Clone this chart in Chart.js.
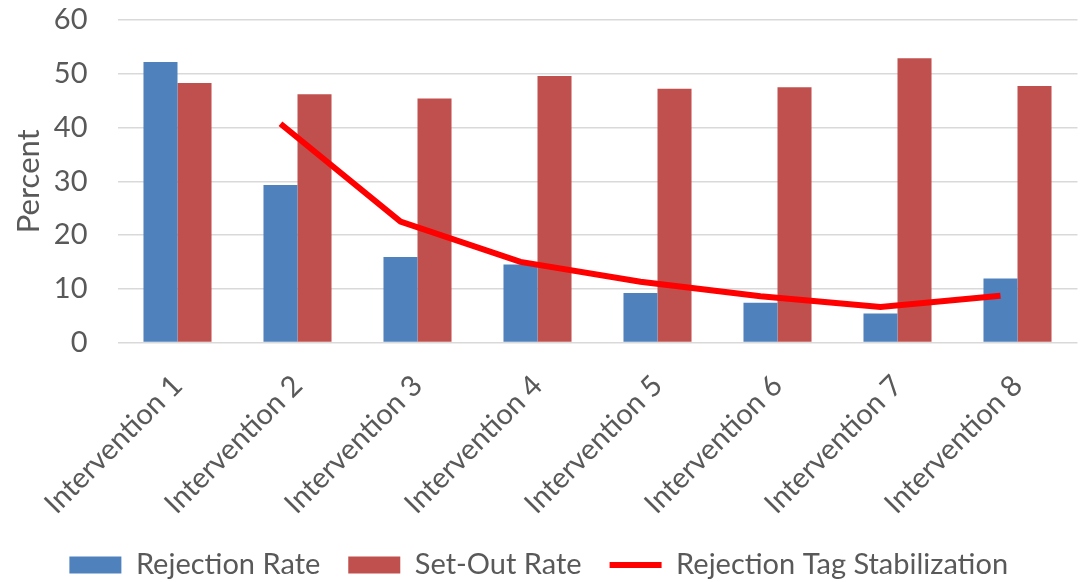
<!DOCTYPE html>
<html>
<head>
<meta charset="utf-8">
<script src="https://cdn.jsdelivr.net/npm/chart.js@4.4.1/dist/chart.umd.min.js"></script>
<style>
  html, body { margin: 0; padding: 0; background: #ffffff; }
  #wrap { width: 1084px; height: 582px; position: relative; }
</style>
</head>
<body>
<div id="wrap"><canvas id="chart"></canvas></div>
<script>
// Intervention categories and the three measured series (percent)
const categories = ['Intervention 1', 'Intervention 2', 'Intervention 3', 'Intervention 4',
                    'Intervention 5', 'Intervention 6', 'Intervention 7', 'Intervention 8'];
const rejectionRate = [52.2, 29.3, 15.9, 14.5, 9.2, 7.4, 5.4, 11.9];
const setOutRate = [48.3, 46.2, 45.4, 49.6, 47.2, 47.5, 52.9, 47.7];
const tagStabilization = [null, 40.7, 22.5, 15.0, 11.3, 8.6, 6.6, 8.7];
const yTicks = [0, 10, 20, 30, 40, 50, 60];

const seriesNames = ['Rejection Rate', 'Set-Out Rate', 'Rejection Tag Stabilization'];
const BLUE = '#4F81BD';
const RED = '#C0504D';
const LINE_RED = '#FF0000';
const TEXT = '#595959';
const FONT = 'Lato';

// Each pair of bars fills this fraction of its category. The two series sit
// side by side, each a quarter of the group away from the category centre;
// the line runs through the centre of the left-hand bar.
const GROUP_FRACTION = 0.567;
const HALF_BAR = GROUP_FRACTION / 4;
const N = categories.length;

const points = (values) => categories.map((c, i) => ({ x: i + 1, y: values[i] }));

// Hidden index axes, one per bar position, sharing the plot width with the category axis
const slotAxis = (shift) => ({
  type: 'linear',
  display: false,
  offset: false,
  min: 0.5 + shift,
  max: N + 0.5 + shift,
  afterBuildTicks: (scale) => { scale.ticks = categories.map((c, i) => ({ value: i + 1 })); }
});

new Chart(document.getElementById('chart'), {
  type: 'bar',
  data: {
    labels: categories,
    datasets: [
      {
        type: 'bar',
        label: seriesNames[0],
        xAxisID: 'xLeft',
        data: points(rejectionRate),
        backgroundColor: BLUE,
        borderWidth: 0,
        grouped: false,
        categoryPercentage: GROUP_FRACTION,
        barPercentage: 0.5,
        order: 1
      },
      {
        type: 'bar',
        label: seriesNames[1],
        xAxisID: 'xRight',
        data: points(setOutRate),
        backgroundColor: RED,
        borderWidth: 0,
        grouped: false,
        categoryPercentage: GROUP_FRACTION,
        barPercentage: 0.5,
        order: 1
      },
      {
        type: 'line',
        label: seriesNames[2],
        xAxisID: 'xLeft',
        data: points(tagStabilization),
        borderColor: LINE_RED,
        backgroundColor: LINE_RED,
        borderWidth: 6,
        pointRadius: 0,
        pointHoverRadius: 0,
        tension: 0,
        fill: false,
        order: 0
      }
    ]
  },
  options: {
    responsive: true,
    maintainAspectRatio: false,
    animation: false,
    layout: { padding: { top: 20, right: 6.5, left: 0, bottom: 0 } },
    scales: {
      x: {
        type: 'category',
        offset: true,
        grid: { display: false, drawTicks: false },
        border: { display: false },
        ticks: {
          color: TEXT,
          font: { family: FONT, size: 29 },
          minRotation: 45,
          maxRotation: 45,
          autoSkip: false,
          padding: 26
        },
        afterFit: (scale) => { scale.height = 180; }
      },
      xLeft: slotAxis(HALF_BAR),
      xRight: slotAxis(-HALF_BAR),
      y: {
        min: yTicks[0],
        max: yTicks[yTicks.length - 1],
        afterBuildTicks: (scale) => { scale.ticks = yTicks.map(v => ({ value: v })); },
        grid: {
          color: '#D9D9D9',
          lineWidth: 1.5,
          drawTicks: true,
          tickLength: 28,
          tickColor: 'rgba(0,0,0,0)'
        },
        border: { display: false },
        ticks: {
          color: TEXT,
          font: { family: FONT, size: 29 },
          padding: 2
        },
        title: {
          display: true,
          text: 'Percent',
          color: TEXT,
          font: { family: FONT, size: 31 },
          padding: { top: 10, bottom: 0 }
        },
        afterFit: (scale) => { scale.width = 117.5; }
      }
    },
    plugins: {
      tooltip: { enabled: false },
      legend: {
        position: 'bottom',
        maxHeight: 59.5,
        labels: {
          color: TEXT,
          font: { family: FONT, size: 29 },
          usePointStyle: true,
          pointStyleWidth: 52,
          boxHeight: 17,
          padding: 28,
          sort: (a, b) => a.datasetIndex - b.datasetIndex,
          generateLabels: (chart) => {
            const items = Chart.defaults.plugins.legend.labels.generateLabels(chart);
            items.forEach(item => {
              const ds = chart.data.datasets[item.datasetIndex];
              if (ds.type === 'line') {
                item.pointStyle = 'line';
                item.strokeStyle = LINE_RED;
                item.lineWidth = 6;
              } else {
                item.pointStyle = 'rect';
                item.fillStyle = ds.backgroundColor;
                item.strokeStyle = ds.backgroundColor;
                item.lineWidth = 0;
              }
            });
            return items;
          }
        }
      }
    }
  }
});
</script>
</body>
</html>
